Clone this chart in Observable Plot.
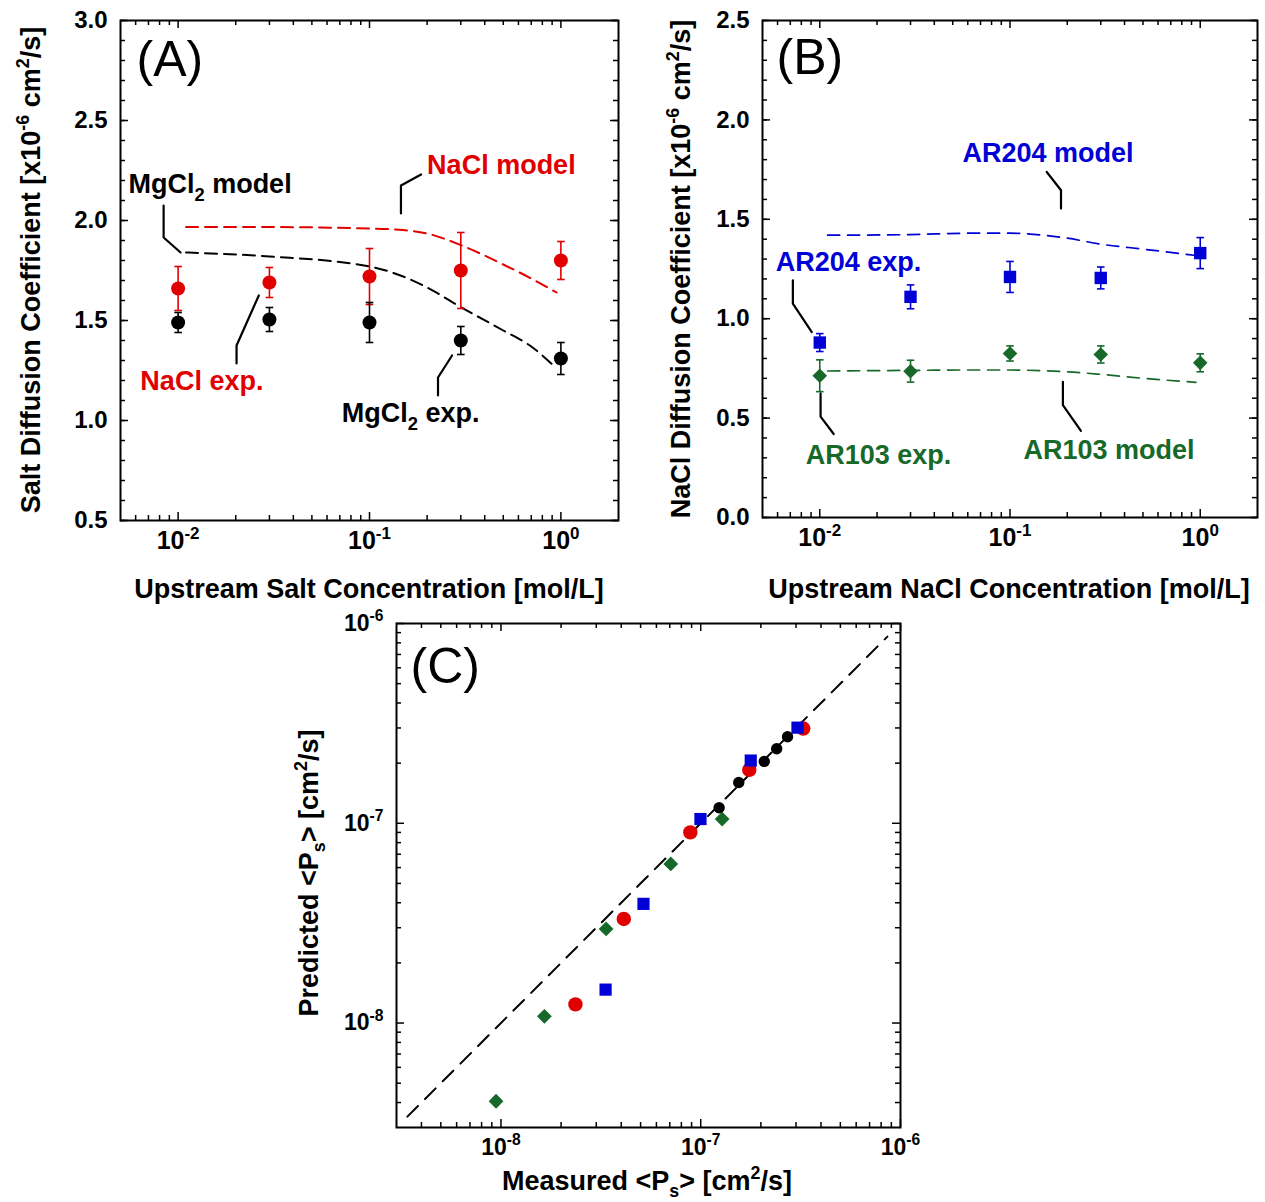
<!DOCTYPE html>
<html><head><meta charset="utf-8">
<script src="https://cdn.jsdelivr.net/npm/d3@7"></script>
<script src="https://cdn.jsdelivr.net/npm/@observablehq/plot@0.6"></script>
<style>
body{margin:0;background:#fff;}
#root{position:relative;width:1265px;height:1202px;font-family:"Liberation Sans",Arial,Helvetica,sans-serif;overflow:hidden;}
.t{position:absolute;font-weight:bold;white-space:nowrap;color:#000;line-height:1;font-size:27px;}
.t sup{font-size:66%;vertical-align:0;position:relative;top:-0.62em;}
.t sub{font-size:66%;vertical-align:0;position:relative;top:0.38em;}
</style></head><body><div id="root"></div><script>
// ---------- data ----------
const RED = "#e10000", BLUE = "#0000d6", GREEN = "#17692a";
const conc = [0.01, 0.03, 0.1, 0.3, 1.0];
// Panel A
const naclExp = [1.66, 1.69, 1.72, 1.75, 1.80];
const naclExpErr = [0.11, 0.075, 0.14, 0.19, 0.095];
const mgcl2Exp = [1.49, 1.505, 1.49, 1.40, 1.31];
const mgcl2ExpErr = [0.05, 0.06, 0.10, 0.07, 0.08];
const modelConcA = [0.011, 0.03, 0.1, 0.15, 0.2, 0.3, 0.5, 0.7, 0.95];
const naclModel = [1.967, 1.967, 1.96, 1.952, 1.935, 1.877, 1.78, 1.71, 1.64];
const mgcl2Model = [1.84, 1.82, 1.77, 1.72, 1.665, 1.567, 1.45, 1.37, 1.26];
const labelsA = ["MgCl_{2} model", "NaCl model", "NaCl exp.", "MgCl_{2} exp."];
const labelXA = [0.0055, 0.2, 0.00635, 0.0717];
const labelYA = [2.235, 2.33, 1.25, 1.09];
const labelColorA = ["#000", RED, RED, "#000"];
const leaderA_MgModel = [[0.0084, 2.075], [0.0084, 1.915], [0.0103, 1.84]];
const leaderA_NaModel = [[0.186, 2.23], [0.146, 2.175], [0.146, 2.035]];
const leaderA_NaExp = [[0.0264, 1.625], [0.0202, 1.375], [0.0202, 1.285]];
const leaderA_MgExp = [[0.27, 1.325], [0.228, 1.215], [0.228, 1.125]];
// Panel B
const ar204Exp = [0.88, 1.11, 1.21, 1.205, 1.33];
const ar204ExpErr = [0.045, 0.06, 0.078, 0.055, 0.078];
const ar103Exp = [0.713, 0.736, 0.825, 0.82, 0.778];
const ar103ExpErr = [0.08, 0.055, 0.038, 0.043, 0.045];
const modelConcB = [0.011, 0.03, 0.06, 0.1, 0.15, 0.2, 0.3, 0.5, 0.95];
const ar204Model = [1.42, 1.423, 1.43, 1.43, 1.42, 1.405, 1.375, 1.35, 1.318];
const ar103Model = [0.737, 0.74, 0.742, 0.742, 0.738, 0.733, 0.72, 0.70, 0.68];
const labelsB = ["AR204 model", "AR204 exp.", "AR103 exp.", "AR103 model"];
const labelXB = [0.0563, 0.00587, 0.00844, 0.1178];
const labelYB = [1.887, 1.334, 0.364, 0.389];
const labelColorB = [BLUE, BLUE, GREEN, GREEN];
const leaderB_204Model = [[0.156, 1.738], [0.1854, 1.646], [0.1854, 1.554]];
const leaderB_204Exp = [[0.00722, 1.193], [0.00722, 1.076], [0.00908, 0.933]];
const leaderB_103Exp = [[0.0101, 0.624], [0.0101, 0.507], [0.01184, 0.42]];
const leaderB_103Model = [[0.1897, 0.682], [0.1897, 0.565], [0.236, 0.436]];
// Panel C (measured, predicted)
const measRed = [2.36e-8, 4.12e-8, 8.87e-8, 1.75e-7, 3.26e-7];
const predRed = [1.24e-8, 3.32e-8, 9.0e-8, 1.85e-7, 2.98e-7];
const measGreen = [9.45e-9, 1.65e-8, 3.36e-8, 7.08e-8, 1.28e-7];
const predGreen = [4.06e-9, 1.08e-8, 2.96e-8, 6.26e-8, 1.05e-7];
const measBlue = [3.34e-8, 5.17e-8, 9.97e-8, 1.78e-7, 3.05e-7];
const predBlue = [1.47e-8, 3.95e-8, 1.05e-7, 2.06e-7, 3.01e-7];
const measBlack = [1.236e-7, 1.55e-7, 2.08e-7, 2.4e-7, 2.72e-7];
const predBlack = [1.195e-7, 1.6e-7, 2.04e-7, 2.36e-7, 2.71e-7];
const parityLine = [3.4e-9, 8.6e-7];
// axis ticks
const majorConc = [0.01, 0.1, 1];
const yTicksA = [0.5, 1.0, 1.5, 2.0, 2.5, 3.0];
const yTicksB = [0.0, 0.5, 1.0, 1.5, 2.0, 2.5];
const majorP = [1e-8, 1e-7, 1e-6];

// ---------- helpers ----------
const FONT = '"Liberation Sans", Arial, Helvetica, sans-serif';
const fmtPow = d => `10^{${Math.round(Math.log10(d))}}`;
const logMinor = (lo, hi) => { const out = []; for (let e = Math.floor(Math.log10(lo)); e <= Math.ceil(Math.log10(hi)); e++) for (let k = 2; k <= 9; k++) { const v = k * Math.pow(10, e); if (v > lo * 1.0001 && v < hi / 1.0001) out.push(v); } return out; };
const linMinor = (lo, hi, step) => d3.range(Math.round((hi - lo) / step) + 1).map(i => +(lo + i * step).toFixed(6));
const pts = (arr, id) => arr.map(([x, y]) => ({x, y, id}));
const capSym = {draw(ctx) { ctx.moveTo(-3.8, 0); ctx.lineTo(3.8, 0); }};
const squareSym = {draw(ctx, size) { const s = Math.sqrt(size / Math.PI); ctx.rect(-s, -s, 2 * s, 2 * s); }};
const diamondSym = {draw(ctx, size) { const s = Math.sqrt(size / Math.PI); ctx.moveTo(0, -s); ctx.lineTo(s, 0); ctx.lineTo(0, s); ctx.lineTo(-s, 0); ctx.closePath(); }};

function frameTicks(xMaj, xMin, yMaj, yMin, pw, ph) {
  const st = {stroke: "black", strokeWidth: 1.5};
  const m = [];
  for (const [v, L] of [[xMaj, 8], [xMin, 5]]) {
    m.push(Plot.ruleX(v, {x: d => d, insetTop: ph - L, ...st}));
    m.push(Plot.ruleX(v, {x: d => d, insetBottom: ph - L, ...st}));
  }
  for (const [v, L] of [[yMaj, 8], [yMin, 5]]) {
    m.push(Plot.ruleY(v, {y: d => d, insetRight: pw - L, ...st}));
    m.push(Plot.ruleY(v, {y: d => d, insetLeft: pw - L, ...st}));
  }
  return m;
}
function errorMarks(data, color) {
  return [
    Plot.ruleX(data, {x: "c", y1: d => d.v - d.e, y2: d => d.v + d.e, stroke: color, strokeWidth: 1.6}),
    Plot.dot(data, {x: "c", y: d => d.v + d.e, symbol: capSym, r: 3, fill: "none", stroke: color, strokeWidth: 1.6}),
    Plot.dot(data, {x: "c", y: d => d.v - d.e, symbol: capSym, r: 3, fill: "none", stroke: color, strokeWidth: 1.6})
  ];
}
function richify(root) {
  root.querySelectorAll("text").forEach(t => {
    const s = t.textContent;
    if (!/[\^_]\{/.test(s)) return;
    const fs = parseFloat(getComputedStyle(t).fontSize) || 20;
    while (t.firstChild) t.removeChild(t.firstChild);
    const re = /([\^_])\{([^}]*)\}/g;
    let last = 0, m, shift = 0;
    const add = (str, kind) => {
      if (!str) return;
      const sp = document.createElementNS("http://www.w3.org/2000/svg", "tspan");
      const target = kind === "^" ? -0.42 * fs : kind === "_" ? 0.32 * fs : 0;
      if (target - shift) sp.setAttribute("dy", target - shift);
      shift = target;
      if (kind) sp.setAttribute("font-size", 0.68 * fs);
      sp.textContent = str;
      t.appendChild(sp);
    };
    while ((m = re.exec(s))) { add(s.slice(last, m.index), null); add(m[2], m[1]); last = re.lastIndex; }
    add(s.slice(last), null);
  });
}
const root = document.getElementById("root");
function place(el, left, top) { el.style.position = "absolute"; el.style.left = left + "px"; el.style.top = top + "px"; root.appendChild(el); richify(el); }
function title(html, cx, cy, rot) {
  const d = document.createElement("div");
  d.className = "t"; d.innerHTML = html;
  d.style.left = cx + "px"; d.style.top = cy + "px";
  d.style.transform = "translate(-50%,-50%)" + (rot ? " rotate(-90deg)" : "");
  root.appendChild(d);
}
const panelLetter = (txt, dx, dy) => Plot.text([txt], {text: d => d, frameAnchor: "top-left", dx, dy, textAnchor: "start", lineAnchor: "top", fontSize: 50, fontWeight: "normal", fill: "black"});

// ---------- Panel A ----------
{
  const W = 630, H = 560, ml = 120, mr = 12, mt = 20, mb = 40;
  const pw = W - ml - mr, ph = H - mt - mb;
  const nacl = conc.map((c, i) => ({c, v: naclExp[i], e: naclExpErr[i]}));
  const mg = conc.map((c, i) => ({c, v: mgcl2Exp[i], e: mgcl2ExpErr[i]}));
  const modN = modelConcA.map((c, i) => ({c, v: naclModel[i]}));
  const modM = modelConcA.map((c, i) => ({c, v: mgcl2Model[i]}));
  const leaders = [...pts(leaderA_MgModel, 1), ...pts(leaderA_NaModel, 2), ...pts(leaderA_NaExp, 3), ...pts(leaderA_MgExp, 4)];
  const labs = labelsA.map((t, i) => ({t, x: labelXA[i], y: labelYA[i], col: labelColorA[i]}));
  const svg = Plot.plot({
    width: W, height: H, marginLeft: ml, marginRight: mr, marginTop: mt, marginBottom: mb,
    x: {type: "log", domain: [0.005, 2]},
    y: {domain: [0.5, 3.0]},
    style: {fontFamily: FONT, background: "white", overflow: "visible", color: "black"},
    marks: [
      ...frameTicks(majorConc, logMinor(0.005, 2), yTicksA, linMinor(0.5, 3.0, 0.1), pw, ph),
      Plot.axisX({ticks: majorConc, tickSize: 0, tickPadding: 11, tickFormat: fmtPow, fontSize: 25, fontWeight: "bold", label: null}),
      Plot.axisY({ticks: yTicksA, tickSize: 0, tickPadding: 13, tickFormat: d3.format(".1f"), fontSize: 24, fontWeight: "bold", label: null}),
      Plot.line(modN, {x: "c", y: "v", stroke: RED, strokeWidth: 2, strokeDasharray: "12,7", curve: "monotone-x"}),
      Plot.line(modM, {x: "c", y: "v", stroke: "black", strokeWidth: 2, strokeDasharray: "12,7", curve: "monotone-x"}),
      Plot.line(leaders, {x: "x", y: "y", z: "id", stroke: "black", strokeWidth: 2.2}),
      ...errorMarks(nacl, RED),
      Plot.dot(nacl, {x: "c", y: "v", r: 7, fill: RED, stroke: "none"}),
      ...errorMarks(mg, "black"),
      Plot.dot(mg, {x: "c", y: "v", r: 7, fill: "black", stroke: "none"}),
      Plot.text(labs, {x: "x", y: "y", text: "t", fill: "col", textAnchor: "start", lineAnchor: "top", fontSize: 27, fontWeight: "bold"}),
      panelLetter("(A)", 16, 20),
      Plot.frame({stroke: "black", strokeWidth: 2})
    ]
  });
  place(svg, 0, 0);
}
// ---------- Panel B ----------
{
  const W = 625, H = 560, ml = 122, mr = 8, mt = 20, mb = 43;
  const pw = W - ml - mr, ph = H - mt - mb;
  const a204 = conc.map((c, i) => ({c, v: ar204Exp[i], e: ar204ExpErr[i]}));
  const a103 = conc.map((c, i) => ({c, v: ar103Exp[i], e: ar103ExpErr[i]}));
  const m204 = modelConcB.map((c, i) => ({c, v: ar204Model[i]}));
  const m103 = modelConcB.map((c, i) => ({c, v: ar103Model[i]}));
  const leaders = [...pts(leaderB_204Model, 1), ...pts(leaderB_204Exp, 2), ...pts(leaderB_103Exp, 3), ...pts(leaderB_103Model, 4)];
  const labs = labelsB.map((t, i) => ({t, x: labelXB[i], y: labelYB[i], col: labelColorB[i]}));
  const svg = Plot.plot({
    width: W, height: H, marginLeft: ml, marginRight: mr, marginTop: mt, marginBottom: mb,
    x: {type: "log", domain: [0.005, 2]},
    y: {domain: [0, 2.5]},
    style: {fontFamily: FONT, background: "white", overflow: "visible", color: "black"},
    marks: [
      ...frameTicks(majorConc, logMinor(0.005, 2), yTicksB, linMinor(0, 2.5, 0.1), pw, ph),
      Plot.axisX({ticks: majorConc, tickSize: 0, tickPadding: 11, tickFormat: fmtPow, fontSize: 25, fontWeight: "bold", label: null}),
      Plot.axisY({ticks: yTicksB, tickSize: 0, tickPadding: 13, tickFormat: d3.format(".1f"), fontSize: 24, fontWeight: "bold", label: null}),
      Plot.line(m204, {x: "c", y: "v", stroke: BLUE, strokeWidth: 1.7, strokeDasharray: "12,8", curve: "monotone-x"}),
      Plot.line(m103, {x: "c", y: "v", stroke: GREEN, strokeWidth: 1.7, strokeDasharray: "12,8", curve: "monotone-x"}),
      Plot.line(leaders, {x: "x", y: "y", z: "id", stroke: "black", strokeWidth: 2.2}),
      ...errorMarks(a204, BLUE),
      Plot.dot(a204, {x: "c", y: "v", r: 6.2, symbol: squareSym, fill: BLUE, stroke: "none"}),
      ...errorMarks(a103, GREEN),
      Plot.dot(a103, {x: "c", y: "v", r: 7.3, symbol: diamondSym, fill: GREEN, stroke: "none"}),
      Plot.text(labs, {x: "x", y: "y", text: "t", fill: "col", textAnchor: "start", lineAnchor: "top", fontSize: 27, fontWeight: "bold"}),
      panelLetter("(B)", 14, 18),
      Plot.frame({stroke: "black", strokeWidth: 2})
    ]
  });
  place(svg, 640, 0);
}
// ---------- Panel C ----------
{
  const W = 644, H = 560, ml = 120, mr = 20, mt = 23, mb = 33;
  const pw = W - ml - mr, ph = H - mt - mb;
  const mk = (ms, ps) => ms.map((m, i) => ({m, p: ps[i]}));
  const svg = Plot.plot({
    width: W, height: H, marginLeft: ml, marginRight: mr, marginTop: mt, marginBottom: mb,
    x: {type: "log", domain: [3e-9, 1e-6]},
    y: {type: "log", domain: [3e-9, 1e-6]},
    style: {fontFamily: FONT, background: "white", overflow: "visible", color: "black"},
    marks: [
      ...frameTicks(majorP, logMinor(3e-9, 1e-6), majorP, logMinor(3e-9, 1e-6), pw, ph),
      Plot.axisX({ticks: majorP, tickSize: 0, tickPadding: 11, tickFormat: fmtPow, fontSize: 23, fontWeight: "bold", label: null}),
      Plot.axisY({ticks: majorP, tickSize: 0, tickPadding: 13, tickFormat: fmtPow, fontSize: 23, fontWeight: "bold", label: null}),
      Plot.line(parityLine.map(v => ({m: v, p: v})), {x: "m", y: "p", stroke: "black", strokeWidth: 2, strokeDasharray: "15,10"}),
      Plot.dot(mk(measRed, predRed), {x: "m", y: "p", r: 7.2, fill: RED, stroke: "none"}),
      Plot.dot(mk(measGreen, predGreen), {x: "m", y: "p", r: 7.4, symbol: diamondSym, fill: GREEN, stroke: "none"}),
      Plot.dot(mk(measBlue, predBlue), {x: "m", y: "p", r: 6.1, symbol: squareSym, fill: BLUE, stroke: "none"}),
      Plot.dot(mk(measBlack, predBlack), {x: "m", y: "p", r: 5.7, fill: "black", stroke: "none"}),
      panelLetter("(C)", 14, 24),
      Plot.frame({stroke: "black", strokeWidth: 2})
    ]
  });
  place(svg, 276, 600);
}
// ---------- axis titles ----------
title("Salt Diffusion Coefficient [x10<sup>-6</sup> cm<sup>2</sup>/s]", 31, 270, true);
title("Upstream Salt Concentration [mol/L]", 369, 589, false);
title("NaCl Diffusion Coefficient [x10<sup>-6</sup> cm<sup>2</sup>/s]", 681, 269, true);
title("Upstream NaCl Concentration [mol/L]", 1009, 589, false);
title("Predicted &lt;P<sub>s</sub>&gt; [cm<sup>2</sup>/s]", 309, 873, true);
title("Measured &lt;P<sub>s</sub>&gt; [cm<sup>2</sup>/s]", 647, 1181, false);
</script></body></html>
